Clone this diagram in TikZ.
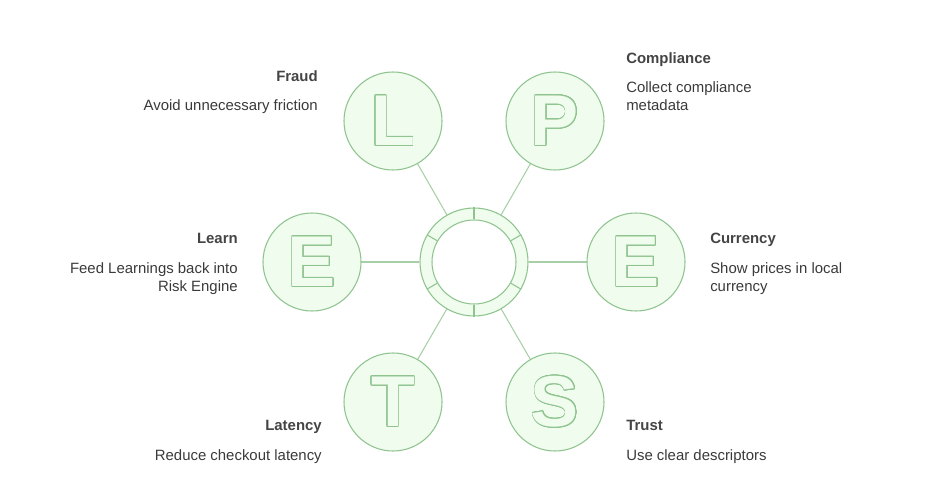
\documentclass[tikz,border=0pt]{standalone}
\usepackage{fontspec}
\setmainfont{Liberation Sans}
\usepackage{xcolor}
\usepackage{contour}
\contourlength{0.5pt}
\contournumber{24}

\definecolor{leafline}{HTML}{8FC48F}
\definecolor{leaffill}{HTML}{F0FCEE}
\definecolor{spoke}{HTML}{A8D0A8}
\definecolor{headtext}{HTML}{444444}
\definecolor{bodytext}{HTML}{3A3A3A}

\tikzset{
    petal/.style={circle, draw=leafline, fill=leaffill, line width=0.8pt, minimum size=73.5pt, inner sep=0pt},
    glyph/.style={inner sep=0pt, font=\fontsize{54}{54}\selectfont\bfseries},
    heading/.style={inner sep=0pt, font=\fontsize{11.2}{13.5}\selectfont\bfseries, text=headtext},
    blurb/.style={inner sep=0pt, font=\fontsize{11.2}{13.5}\selectfont, text=bodytext},
}

\begin{document}
\begin{tikzpicture}[x=0.75pt, y=-0.75pt]
    \useasboundingbox (0,0) rectangle (948,499);

    % Hub: segmented ring
    \node[circle, draw=leafline, fill=leaffill, line width=0.8pt, minimum size=81pt, inner sep=0pt] (hub) at (474,262) {};
    \node[circle, draw=leafline, fill=white, line width=0.8pt, minimum size=63pt, inner sep=0pt] (hole) at (474,262) {};
    \foreach \a in {30,90,...,330} {
        \draw[leafline, line width=0.8pt] (hub.\a) -- (hole.\a);
    }

    % Petals with outlined letters
    \foreach \n/\x/\y/\c in {fraud/393/121/L, comply/555/121/P, currency/636/262/E,
                             trust/555/402/S, latency/393/402/T, learn/312/262/E} {
        \draw[spoke, line width=0.8pt] (hub) -- (\x,\y);
        \node[petal] (\n) at (\x,\y) {};
        \node[glyph] (\n-glyph) at (\n) {\contour{leafline}{\textcolor{leaffill}{\c}}};
    }

    % Labels on the left
    \node[heading, anchor=base east] (fraud-head) at (318,82) {Fraud};
    \node[blurb, anchor=base east] (fraud-text) at (318,111) {Avoid unnecessary friction};
    \node[heading, anchor=base east] (learn-head) at (238,243) {Learn};
    \node[blurb, anchor=base east] (learn-text1) at (238,273) {Feed Learnings back into};
    \node[blurb, anchor=base east] (learn-text2) at (238,291) {Risk Engine};
    \node[heading, anchor=base east] (latency-head) at (322,430) {Latency};
    \node[blurb, anchor=base east] (latency-text) at (322,460) {Reduce checkout latency};

    % Labels on the right
    \node[heading, anchor=base west] (comply-head) at (626,64) {Compliance};
    \node[blurb, anchor=base west] (comply-text1) at (626,93) {Collect compliance};
    \node[blurb, anchor=base west] (comply-text2) at (626,111) {metadata};
    \node[heading, anchor=base west] (currency-head) at (710,243) {Currency};
    \node[blurb, anchor=base west] (currency-text1) at (710,273) {Show prices in local};
    \node[blurb, anchor=base west] (currency-text2) at (710,291) {currency};
    \node[heading, anchor=base west] (trust-head) at (626,430) {Trust};
    \node[blurb, anchor=base west] (trust-text) at (626,460) {Use clear descriptors};
\end{tikzpicture}
\end{document}
